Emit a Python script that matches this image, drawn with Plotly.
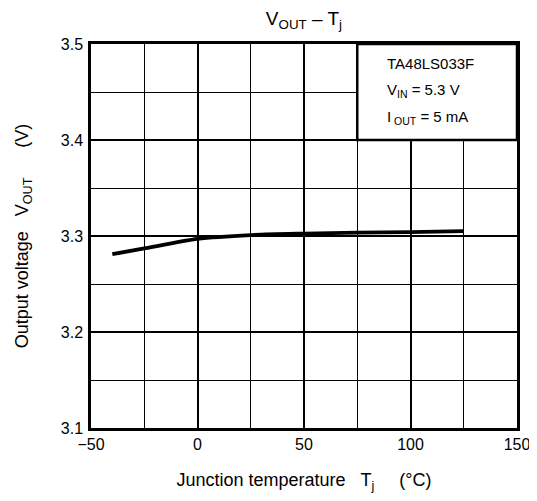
import plotly.graph_objects as go

temp_c = [-40, -25, 0, 25, 50, 75, 100, 125]
vout_v = [3.281, 3.287, 3.297, 3.301, 3.3025, 3.3035, 3.304, 3.305]

x_ticks = [-50, 0, 50, 100, 150]
x_tick_labels = ["\u221250", "0", "50", "100", "150"]
y_ticks = [3.1, 3.2, 3.3, 3.4, 3.5]
y_tick_labels = ["3.1", "3.2", "3.3", "3.4", "3.5"]

legend_lines = ["TA48LS033F", "V<sub>IN</sub> = 5.3 V", "I<sub> OUT</sub> = 5 mA"]

FONT = "Liberation Sans, Arial, sans-serif"
SP = "\u00a0"

fig = go.Figure()
fig.add_trace(go.Scatter(x=temp_c, y=vout_v, mode="lines",
                         line=dict(color="black", width=3.8, shape="spline", smoothing=0.7),
                         showlegend=False, hoverinfo="skip"))

fig.update_layout(
    width=521, height=485,
    margin=dict(l=83, r=12, t=36, b=65),
    paper_bgcolor="white", plot_bgcolor="white",
    font=dict(family=FONT, size=16, color="black"),
    title=dict(text="V<sub>OUT</sub> \u2013 T<sub>j</sub>", x=0.568, xanchor="center",
               xref="container", y=0.978, yanchor="middle", yref="container",
               font=dict(size=19, family=FONT)),
    xaxis=dict(range=[-50, 150], tickvals=x_ticks, ticktext=x_tick_labels,
               showgrid=True, gridcolor="black", gridwidth=1.8,
               minor=dict(dtick=25, showgrid=True, gridcolor="black", gridwidth=1),
               showline=True, linecolor="black", linewidth=2.5, mirror=True,
               ticks="", zeroline=False, fixedrange=True, automargin=False,
               ticklabeloverflow="allow",
               tickfont=dict(size=16),
               title=dict(text="Junction temperature" + SP * 3 + "T<sub>j</sub>" + SP * 5 + "(\u00b0C)",
                          font=dict(size=18), standoff=26)),
    yaxis=dict(range=[3.1, 3.5], tickvals=y_ticks, ticktext=y_tick_labels,
               showgrid=True, gridcolor="black", gridwidth=1.8,
               minor=dict(dtick=0.05, showgrid=True, gridcolor="black", gridwidth=1),
               showline=True, linecolor="black", linewidth=2.5, mirror=True,
               ticks="", zeroline=False, fixedrange=True, automargin=False,
               ticklabelstandoff=2, ticklabeloverflow="allow",
               tickfont=dict(size=16),
               title=dict(text="Output voltage" + SP * 3 + "V<sub>OUT</sub>" + SP * 6 + "(V)",
                          font=dict(size=18), standoff=28)),
)

fig.add_shape(type="rect", xref="x", yref="y", x0=75, x1=150, y0=3.4, y1=3.5,
              fillcolor="white", line=dict(color="black", width=2.5), layer="above")

for i, txt in enumerate(legend_lines):
    fig.add_annotation(xref="paper", yref="paper", x=(385 - 91) / 426,
                       y=1 - (19.5 + 27 * i) / 384, xanchor="left", yanchor="middle",
                       text=txt, showarrow=False, font=dict(size=15, family=FONT))

fig.write_html("out.html")
